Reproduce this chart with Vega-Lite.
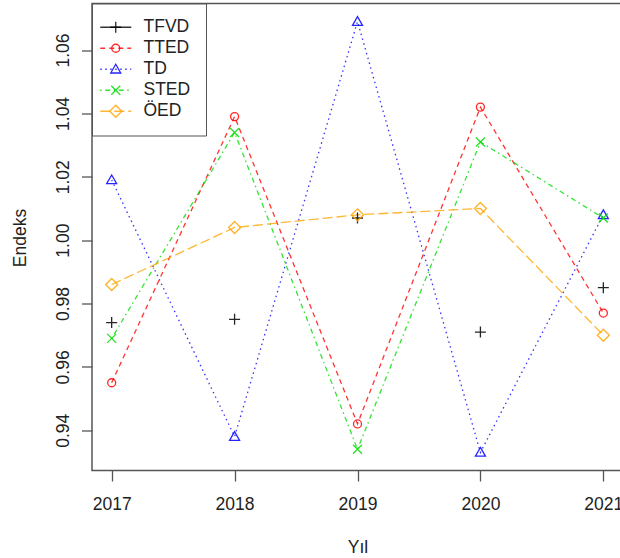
{
  "$schema": "https://vega.github.io/schema/vega-lite/v6.json",
  "width": 531,
  "height": 467,
  "autosize": {"type": "none"},
  "padding": {"left": 92, "top": 3.5, "right": 0, "bottom": 88},
  "background": "white",
  "config": {
    "font": "Liberation Sans",
    "view": {"stroke": "#555", "strokeWidth": 1.5},
    "axis": {"grid": false, "domain": false, "tickColor": "#555", "tickWidth": 1.3, "tickSize": 10.5,
      "labelFont": "Liberation Sans", "labelFontSize": 17.5, "labelColor": "#222",
      "titleFont": "Liberation Sans", "titleFontSize": 17.5, "titleFontWeight": "normal", "titleColor": "#222"}
  },
  "data": {"values": [
    {"year": 2017, "series": "TFVD", "value": 0.974},
    {"year": 2018, "series": "TFVD", "value": 0.975},
    {"year": 2019, "series": "TFVD", "value": 1.007},
    {"year": 2020, "series": "TFVD", "value": 0.971},
    {"year": 2021, "series": "TFVD", "value": 0.985},
    {"year": 2017, "series": "TTED", "value": 0.955},
    {"year": 2018, "series": "TTED", "value": 1.039},
    {"year": 2019, "series": "TTED", "value": 0.942},
    {"year": 2020, "series": "TTED", "value": 1.042},
    {"year": 2021, "series": "TTED", "value": 0.977},
    {"year": 2017, "series": "TD", "value": 1.019},
    {"year": 2018, "series": "TD", "value": 0.938},
    {"year": 2019, "series": "TD", "value": 1.069},
    {"year": 2020, "series": "TD", "value": 0.933},
    {"year": 2021, "series": "TD", "value": 1.008},
    {"year": 2017, "series": "STED", "value": 0.969},
    {"year": 2018, "series": "STED", "value": 1.034},
    {"year": 2019, "series": "STED", "value": 0.934},
    {"year": 2020, "series": "STED", "value": 1.031},
    {"year": 2021, "series": "STED", "value": 1.007},
    {"year": 2017, "series": "ÖED", "value": 0.986},
    {"year": 2018, "series": "ÖED", "value": 1.004},
    {"year": 2019, "series": "ÖED", "value": 1.008},
    {"year": 2020, "series": "ÖED", "value": 1.010},
    {"year": 2021, "series": "ÖED", "value": 0.970}
  ]},
  "encoding": {
    "x": {"field": "year", "type": "quantitative",
      "scale": {"domain": [2016.84, 2021.16], "nice": false, "zero": false},
      "axis": {"values": [2017, 2018, 2019, 2020, 2021], "format": "d", "title": "Yıl",
        "labelPadding": 14, "titleY": 81.5, "titleBaseline": "alphabetic"}},
    "y": {"field": "value", "type": "quantitative",
      "scale": {"domain": [0.9273, 1.0747], "nice": false, "zero": false},
      "axis": {"values": [0.94, 0.96, 0.98, 1.0, 1.02, 1.04, 1.06], "format": ".2f", "title": "Endeks",
        "labelAngle": 270, "labelAlign": "center", "labelBaseline": "alphabetic", "labelPadding": 13.5,
        "titleAngle": 270, "titleAlign": "center", "titleBaseline": "alphabetic", "titleX": -67, "titleY": 234}}
  },
  "layer": [
    {
      "transform": [{"filter": "datum.series !== 'TFVD'"}],
      "mark": {"type": "line", "strokeWidth": 1.3, "opacity": 0.8},
      "encoding": {
        "color": {"field": "series", "type": "nominal",
          "scale": {"domain": ["TFVD", "TTED", "TD", "STED", "ÖED"], "range": ["#000000", "#ff0000", "#0000ff", "#00dd00", "#ffa500"]},
          "legend": {"orient": "none", "legendX": 0, "legendY": 0, "title": null,
            "symbolType": "M-3.1,0H3.1", "symbolSize": 100, "symbolStrokeWidth": 1.3,
            "labelFontSize": 17.5, "labelFont": "Liberation Sans", "labelColor": "#222",
            "padding": 15, "rowPadding": 2, "labelOffset": 19,
            "strokeColor": "#555", "fillColor": "white"}},
        "strokeDash": {"field": "series", "type": "nominal",
          "scale": {"domain": ["TFVD", "TTED", "TD", "STED", "ÖED"], "range": [[1, 0], [5, 4], [1.5, 3.5], [1.5, 3.5, 5, 3.5], [10, 4]]},
          "legend": {"orient": "none", "legendX": 0, "legendY": 0, "title": null,
            "symbolType": "M-3.1,0H3.1", "symbolSize": 100, "symbolStrokeWidth": 1.3,
            "labelFontSize": 17.5, "labelFont": "Liberation Sans", "labelColor": "#222",
            "padding": 15, "rowPadding": 2, "labelOffset": 19,
            "strokeColor": "#555", "fillColor": "white"}}
      }
    },
    {
      "mark": {"type": "point", "filled": false, "size": 100, "strokeWidth": 1.3, "opacity": 0.85},
      "encoding": {
        "color": {"field": "series", "type": "nominal",
          "scale": {"domain": ["TFVD", "TTED", "TD", "STED", "ÖED"], "range": ["#000000", "#ff0000", "#0000ff", "#00dd00", "#ffa500"]},
          "legend": {"orient": "none", "legendX": 0, "legendY": 0, "title": null,
            "symbolSize": 100, "symbolStrokeWidth": 1.3,
            "labelFontSize": 17.5, "labelFont": "Liberation Sans", "labelOpacity": 0,
            "padding": 15, "rowPadding": 2, "labelOffset": 19}},
        "shape": {"field": "series", "type": "nominal",
          "scale": {"domain": ["TFVD", "TTED", "TD", "STED", "ÖED"],
            "range": ["M-1.1,0H1.1M0,-1.1V1.1", "M0.8,0A0.8,0.8 0 1,1 -0.8,0A0.8,0.8 0 1,1 0.8,0Z", "M0,-1L1,0.75L-1,0.75Z", "M-0.9,-0.9L0.9,0.9M-0.9,0.9L0.9,-0.9", "M0,-1.2L1.2,0L0,1.2L-1.2,0Z"]},
          "legend": {"orient": "none", "legendX": 0, "legendY": 0, "title": null,
            "symbolSize": 100, "symbolStrokeWidth": 1.3,
            "labelFontSize": 17.5, "labelFont": "Liberation Sans", "labelOpacity": 0,
            "padding": 15, "rowPadding": 2, "labelOffset": 19}}
      }
    }
  ],
  "resolve": {"legend": {"color": "independent", "shape": "independent", "strokeDash": "independent"}}
}
